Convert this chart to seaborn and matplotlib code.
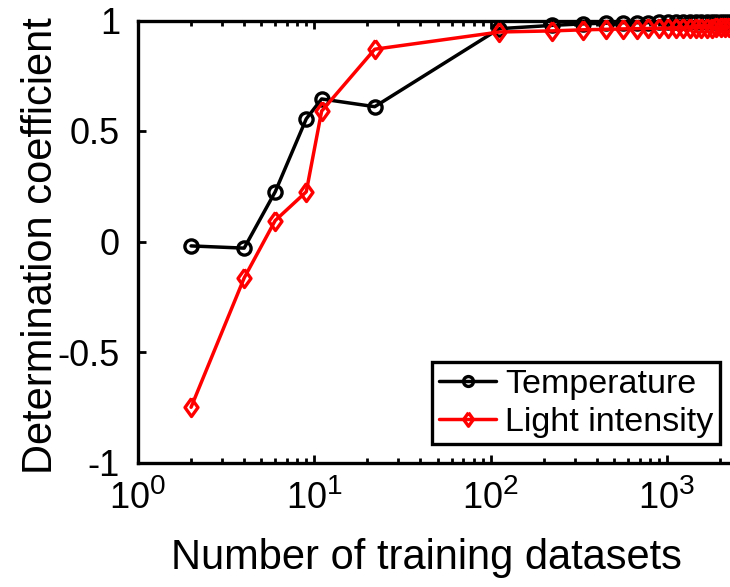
import numpy as np
import pandas as pd
import matplotlib
matplotlib.use("Agg")
import matplotlib.pyplot as plt
import matplotlib._mathtext as mathtext_impl
from matplotlib.ticker import LogLocator, NullFormatter, FuncFormatter, FixedLocator
import seaborn as sns

# Number of training datasets used
n_train = [2, 4, 6, 9, 11, 22, 112, 224, 336, 448, 560, 672, 784, 896, 1008,
           1120, 1232, 1344, 1456, 1568, 1680, 1792, 1904, 2016, 2128, 2240]

# Determination coefficient (R^2) per sensor
r2_temperature = [-0.02, -0.03, 0.225, 0.555, 0.645, 0.61, 0.963, 0.978, 0.985,
                  0.988, 0.99, 0.99, 0.99, 0.991, 0.991, 0.991, 0.992, 0.992,
                  0.992, 0.992, 0.993, 0.993, 0.993, 0.993, 0.993, 0.993]
r2_light = [-0.75, -0.165, 0.095, 0.225, 0.59, 0.87, 0.948, 0.953, 0.958, 0.96,
            0.962, 0.963, 0.964, 0.965, 0.965, 0.966, 0.966, 0.967, 0.967,
            0.968, 0.968, 0.968, 0.969, 0.969, 0.97, 0.97]

series_names = ["Temperature", "Light intensity"]
y_ticks = [-1, -0.5, 0, 0.5, 1]

# larger exponents on the decade labels
mathtext_impl.SHRINK_FACTOR = 0.78

sns.set_style("ticks")
plt.rcParams["font.family"] = ["Liberation Sans", "DejaVu Sans"]
plt.rcParams["mathtext.fontset"] = "custom"
plt.rcParams["mathtext.rm"] = "Liberation Sans"
plt.rcParams["mathtext.it"] = "Liberation Sans"
plt.rcParams["axes.unicode_minus"] = False
plt.rcParams["text.color"] = "black"
plt.rcParams["axes.labelcolor"] = "black"
plt.rcParams["xtick.color"] = "black"
plt.rcParams["ytick.color"] = "black"

W, H = 730, 587
fig = plt.figure(figsize=(W / 100, H / 100), dpi=100)
left, right, top, bottom = 138, 742, 20.5, 462.5
ax = fig.add_axes([left / W, 1 - bottom / H, (right - left) / W, (bottom - top) / H])

df = pd.DataFrame({
    "n": n_train * 2,
    "r2": r2_temperature + r2_light,
    "sensor": [series_names[0]] * len(n_train) + [series_names[1]] * len(n_train),
})

# MATLAB-style diamond: a bit taller than wide
diamond = [(0, 1), (0.72, 0), (0, -1), (-0.72, 0), (0, 1)]
styles = {
    series_names[0]: dict(color="black", marker="o", markersize=9.5),
    series_names[1]: dict(color="red", marker=diamond, markersize=13),
}
for name in series_names:
    sub = df[df["sensor"] == name]
    st = styles[name]
    sns.lineplot(data=sub, x="n", y="r2", ax=ax, color=st["color"], lw=2.5,
                 marker=st["marker"], markersize=st["markersize"],
                 markerfacecolor="none", markeredgecolor=st["color"],
                 markeredgewidth=2.4, label=name, clip_on=False, zorder=3)

ax.set_xscale("log")
decade_px = (667 - 138) / 3.0
ax.set_xlim(1, 10 ** ((right - left) / decade_px))
ax.set_ylim(-1, 1)

ax.xaxis.set_major_locator(LogLocator(base=10, numticks=10))
ax.xaxis.set_minor_locator(LogLocator(base=10, subs=np.arange(2, 10), numticks=20))
ax.xaxis.set_minor_formatter(NullFormatter())
ax.xaxis.set_major_formatter(FuncFormatter(lambda v, p: r"$10^{%d}$" % round(np.log10(v))))
ax.yaxis.set_major_locator(FixedLocator(y_ticks))
ax.yaxis.set_major_formatter(FuncFormatter(lambda v, p: "%g" % v))

ax.tick_params(axis="both", which="both", direction="in", top=True, right=True,
               width=2, labelsize=26, colors="black")
ax.tick_params(axis="x", which="major", length=6, pad=12)
ax.tick_params(axis="x", which="minor", length=3.5)
ax.tick_params(axis="y", which="major", length=5.5, pad=13)

for sp in ax.spines.values():
    sp.set_linewidth(2.4)
    sp.set_color("black")

ax.set_xlabel("Number of training datasets", fontsize=30)
ax.set_ylabel("Determination coefficient", fontsize=30)
ax.xaxis.label.set_va("baseline")
ax.xaxis.set_label_coords(426 / W, 1 - 569 / H, transform=fig.transFigure)
ax.yaxis.label.set_va("baseline")
ax.yaxis.set_label_coords(52 / W, 1 - 246 / H, transform=fig.transFigure)

leg = ax.legend(loc="upper right", bbox_to_anchor=(720 / W, 1 - 362 / H),
                bbox_transform=fig.transFigure, fontsize=24.5, frameon=True,
                fancybox=False, framealpha=1, borderpad=0.2, handlelength=1.7,
                handletextpad=0.25, labelspacing=0.2, borderaxespad=0,
                markerscale=0.75)
leg.get_frame().set_edgecolor("black")
leg.get_frame().set_linewidth(2.4)
leg.set_zorder(5)

fig.savefig("out.png", dpi=100)
